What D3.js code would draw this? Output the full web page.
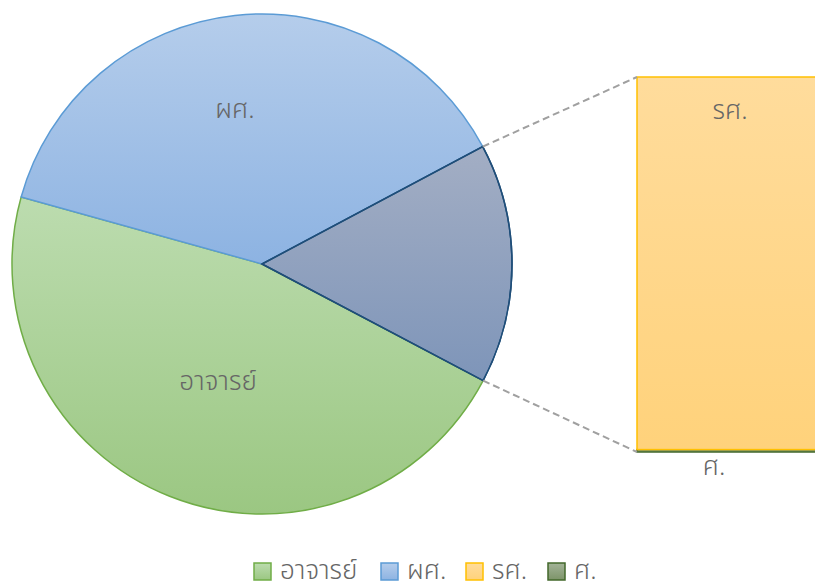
<!DOCTYPE html>
<html><head><meta charset="utf-8">
<script src="https://cdn.jsdelivr.net/npm/d3@7"></script>
<style>html,body{margin:0;padding:0;background:#fff;}svg{display:block;}</style>
</head><body>
<svg id="c" width="815" height="585"></svg>
<script>
const pieCategories = ["อาจารย์", "ผศ."];
const pieValues = [46.6, 37.9];
const barCategories = ["ศ.", "รศ."];
const barValues = [0.1, 15.4];
const legendLabels = ["อาจารย์", "ผศ.", "รศ.", "ศ."];

const fills = {
  "อาจารย์": ["#bcdcaf", "#9bc782"],
  "ผศ.": ["#b5cdeb", "#8db3e2"],
  "other": ["#a3aec4", "#7e95b9"],
  "รศ.": ["#ffdc9c", "#ffd27b"],
  "ศ.": ["#a3b398", "#7d9469"]
};
const strokes = {"อาจารย์": "#70ad47", "ผศ.": "#5b9bd5", "other": "#1f4e79", "รศ.": "#ffc000", "ศ.": "#43682b"};

const svg = d3.select("#c");
const defs = svg.append("defs");
Object.entries(fills).forEach(([k, v], i) => {
  const g = defs.append("linearGradient").attr("id", "g" + i).attr("x1", 0).attr("y1", 0).attr("x2", 0).attr("y2", 1);
  g.append("stop").attr("offset", 0).attr("stop-color", v[0]);
  g.append("stop").attr("offset", 1).attr("stop-color", v[1]);
  fills[k].id = "url(#g" + i + ")";
});

const font = "'Noto Sans Thai','Noto Sans','DejaVu Sans',sans-serif";
const fs = 26, fw = 300, tc = "#666666";
const cx = 262, cy = 264, R = 250;
const otherTotal = d3.sum(barValues);
const pieData = pieCategories.map((c, i) => ({name: c, value: pieValues[i]})).concat([{name: "other", value: otherTotal}]);
const start = (90 + 27.8) * Math.PI / 180;
const pie = d3.pie().sort(null).value(d => d.value).startAngle(start).endAngle(start + 2 * Math.PI);
const arcs = pie(pieData);
const arc = d3.arc().innerRadius(0).outerRadius(R);
const gp = svg.append("g").attr("transform", `translate(${cx},${cy})`);
gp.selectAll("path").data(arcs).join("path")
  .attr("d", arc)
  .attr("fill", d => fills[d.data.name].id)
  .attr("stroke", d => strokes[d.data.name])
  .attr("stroke-width", 1.5)
  .attr("stroke-linejoin", "round");
gp.append("path").attr("d", arc(arcs[2])).attr("fill", "none").attr("stroke", strokes.other).attr("stroke-width", 1.5);

function label(x, yy, t, anchor) {
  svg.append("text").attr("x", x).attr("y", yy)
    .attr("text-anchor", anchor || "middle").attr("dominant-baseline", "middle")
    .attr("font-family", font).attr("font-size", fs).attr("font-weight", fw).attr("fill", tc).text(t);
}
const labelPos = {"อาจารย์": [218, 383], "ผศ.": [235, 111]};
pieCategories.forEach(c => label(labelPos[c][0], labelPos[c][1], c));

// bar
const barX = 637, barW = 210;
const y = d3.scaleLinear().domain([0, otherTotal]).range([452, 77]);
let acc = 0;
const stacked = barCategories.map((c, i) => { const d = {name: c, y0: acc, y1: acc + barValues[i]}; acc += barValues[i]; return d; });
svg.selectAll("rect.bar").data(stacked).join("rect").attr("class", "bar")
  .attr("x", barX).attr("width", barW)
  .attr("y", d => y(d.y1)).attr("height", d => y(d.y0) - y(d.y1))
  .attr("fill", d => fills[d.name].id)
  .attr("stroke", d => strokes[d.name]).attr("stroke-width", 1.5);

// connector lines
const a0 = arcs[2].startAngle, a1 = arcs[2].endAngle;
const p = a => [cx + R * Math.sin(a), cy - R * Math.cos(a)];
const pa = p(a0), pb = p(a1);
const topPt = pb[1] < pa[1] ? pb : pa, botPt = pb[1] < pa[1] ? pa : pb;
[[topPt, y(otherTotal)], [botPt, y(0)]].forEach(([pt, yy]) => {
  svg.append("line").attr("x1", pt[0]).attr("y1", pt[1]).attr("x2", barX).attr("y2", yy)
    .attr("stroke", "#a0a0a0").attr("stroke-width", 2).attr("stroke-dasharray", "7,4");
});

label(730, 112, "รศ.");
label(714, 468, "ศ.");

// legend
const legX = [254, 381, 466, 548];
legendLabels.forEach((l, i) => {
  svg.append("rect").attr("x", legX[i]).attr("y", 563).attr("width", 17).attr("height", 17)
    .attr("fill", fills[l].id).attr("stroke", strokes[l]).attr("stroke-width", 1.5);
  label(legX[i] + 26, 572, l, "start");
});
</script>
</body></html>
